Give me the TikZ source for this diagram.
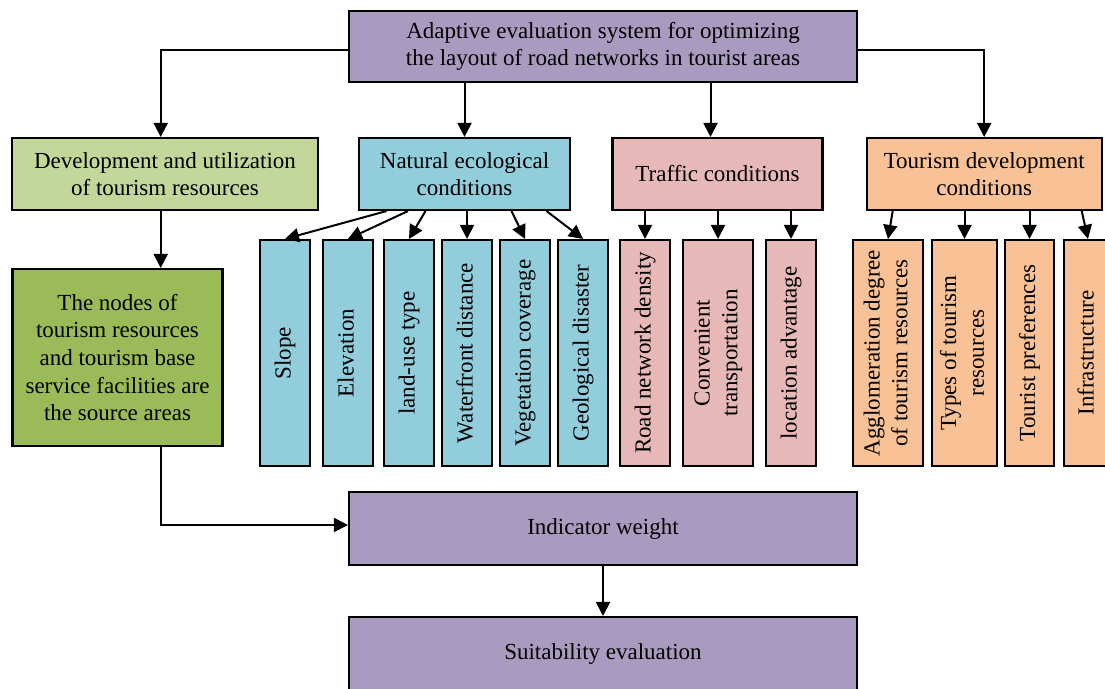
\documentclass[tikz,border=0pt]{standalone}
\usepackage{fontspec}
\setmainfont{Liberation Serif}
\usetikzlibrary{arrows.meta}
\definecolor{cpurple}{RGB}{169,155,191}
\definecolor{cblue}{RGB}{146,205,220}
\definecolor{cpink}{RGB}{230,184,183}
\definecolor{corange}{RGB}{249,194,150}
\definecolor{clgreen}{RGB}{196,215,155}
\definecolor{cdgreen}{RGB}{155,187,89}
\newcommand{\vtext}[1]{\rotatebox{90}{\begin{tabular}{@{}c@{}}#1\end{tabular}}}
\begin{document}
\begin{tikzpicture}[x=1pt,y=-1pt,
  box/.style={draw=black, line width=2.1pt, rectangle, inner sep=0pt, align=center,
    font=\fontsize{23}{27.6}\selectfont},
  vbox/.style={box, minimum height=226pt},
  arr/.style={line width=2pt, -{Triangle[length=14pt,width=14pt]}},
  ln/.style={line width=2pt}]
\useasboundingbox (0,0) rectangle (1105,688);
\clip (0,0) rectangle (1105,688);

% top
\node[box, fill=cpurple, minimum width=508pt, minimum height=71pt] (top) at (603,46.5)
  {Adaptive evaluation system for optimizing\\the layout of road networks in tourist areas};

% second row
\node[box, fill=clgreen, minimum width=306pt, minimum height=72pt] (dev) at (165,174)
  {Development and utilization\\of tourism resources};
\node[box, fill=cblue, minimum width=211pt, minimum height=72pt] (nat) at (464.5,174)
  {Natural ecological\\conditions};
\node[box, fill=cpink, minimum width=210pt, minimum height=72pt] (tr) at (717.5,174)
  {Traffic conditions};
\node[box, fill=corange, minimum width=235pt, minimum height=72pt] (tour) at (984.2,174)
  {Tourism development\\conditions};

% dark green box
\node[box, fill=cdgreen, minimum width=210pt, minimum height=177pt] (dg) at (117.5,357.5)
  {The nodes of\\tourism resources\\and tourism base\\service facilities are\\the source areas};

% vertical boxes
\node[vbox, fill=cblue, minimum width=50pt] (slope) at (285,353) {\vtext{Slope}};
\node[vbox, fill=cblue, minimum width=50pt] (elev) at (348,353) {\vtext{Elevation}};
\node[vbox, fill=cblue, minimum width=50pt] (land) at (409,353) {\vtext{land-use type}};
\node[vbox, fill=cblue, minimum width=50pt] (wf) at (467,353) {\vtext{Waterfront distance}};
\node[vbox, fill=cblue, minimum width=50pt] (veg) at (525,353) {\vtext{Vegetation coverage}};
\node[vbox, fill=cblue, minimum width=50pt] (geo) at (583,353) {\vtext{Geological disaster}};
\node[vbox, fill=cpink, minimum width=50pt] (road) at (645,353) {\vtext{Road network density}};
\node[vbox, fill=cpink, minimum width=70pt] (conv) at (718,353) {\vtext{Convenient\\transportation}};
\node[vbox, fill=cpink, minimum width=50pt] (loc) at (791,353) {\vtext{location advantage}};
\node[vbox, fill=corange, minimum width=70pt] (agg) at (888,353) {\vtext{Agglomeration degree\\of tourism resources}};
\node[vbox, fill=corange, minimum width=65pt] (types) at (964.5,353) {\vtext{Types of tourism\\resources}};
\node[vbox, fill=corange, minimum width=49pt] (pref) at (1029.5,353) {\vtext{Tourist preferences}};
\node[vbox, fill=corange, minimum width=48pt] (infra) at (1088,353) {\vtext{Infrastructure}};

% bottom boxes
\node[box, fill=cpurple, minimum width=508pt, minimum height=73pt] (iw) at (603,528.5) {Indicator weight};
\node[box, fill=cpurple, minimum width=508pt, minimum height=73pt] (suit) at (603,653.5) {Suitability evaluation};

% connectors from top
\coordinate (din) at ([xshift=-4.3pt]dev.north);
\coordinate (tin) at ([xshift=-7pt]tr.north);
\draw[arr] ([yshift=-3.5pt]top.west) -| (din);
\draw[arr] ([yshift=-3.5pt]top.east) -| (tour.north);
\draw[arr] (top.south -| nat.north) -- (nat.north);
\draw[arr] (top.south -| tin) -- (tin);

% natural
\draw[arr] ([xshift=-78pt]nat.south) -- (slope.north);
\draw[arr] ([xshift=-56.5pt]nat.south) -- (elev.north);
\draw[arr] ([xshift=-39pt]nat.south) -- (land.north);
\draw[arr] (nat.south -| wf.north) -- (wf.north);
\draw[arr] ([xshift=47pt]nat.south) -- (veg.north);
\draw[arr] ([xshift=82pt]nat.south) -- (geo.north);

% traffic
\draw[arr] (tr.south -| road.north) -- (road.north);
\draw[arr] (tr.south -| conv.north) -- (conv.north);
\draw[arr] (tr.south -| loc.north) -- (loc.north);

% tourism
\draw[arr] ([xshift=-91.5pt]tour.south) -- (agg.north);
\draw[arr] (tour.south -| types.north) -- (types.north);
\draw[arr] (tour.south -| pref.north) -- (pref.north);
\draw[arr] ([xshift=97.5pt]tour.south) -- (infra.north);

% left chain
\draw[arr] (dev.south -| din) -- (dg.north -| din);
\draw[arr] (dg.south -| din) |- ([yshift=3.5pt]iw.west);
\draw[arr] (iw.south) -- (suit.north);
\end{tikzpicture}
\end{document}
